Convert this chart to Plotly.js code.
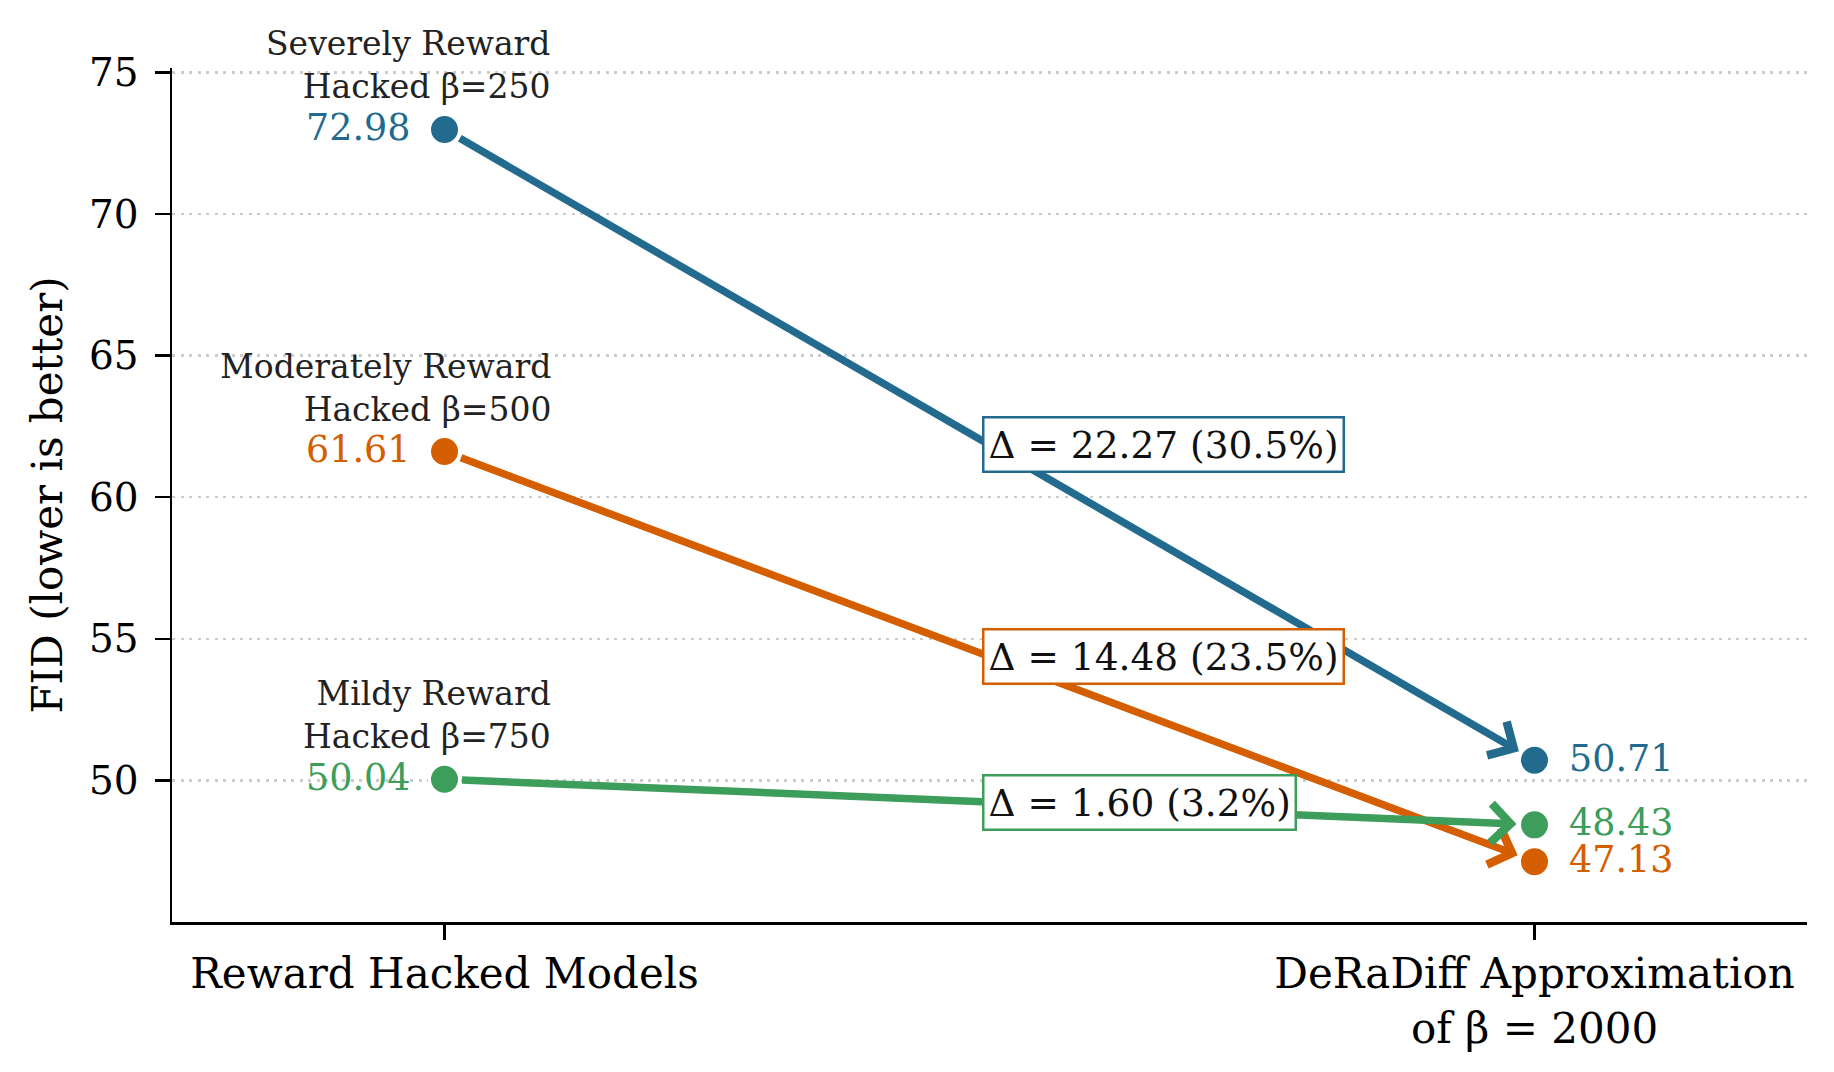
<!DOCTYPE html>
<html>
<head>
<meta charset="utf-8">
<script src="https://cdn.plot.ly/plotly-3.0.1.min.js"></script>
<style>html,body{margin:0;padding:0;background:#fff;}#chart{width:1834px;height:1072px;}</style>
</head>
<body>
<div id="chart"></div>
<script>
// ---- data ----
const stageLabels = ["Reward Hacked Models", "DeRaDiff Approximation<br>of β = 2000"];
const groupNames = ["Severely Reward", "Moderately Reward", "Mildy Reward"];
const betas = [250, 500, 750];
const fidBefore = [72.98, 61.61, 50.04];
const fidAfter = [50.71, 47.13, 48.43];
const deltaValues = [22.27, 14.48, 1.60];
const deltaPercents = [30.5, 23.5, 3.2];
const colors = ["#236B8E", "#D55E00", "#3D9D5B"];
const yTicks = [50, 55, 60, 65, 70, 75];

const FONT = "DejaVu Serif, Liberation Serif, serif";
const xPos = [0, 1];

const traces = [];
const annotations = [];

for (let i = 0; i < fidBefore.length; i++) {
  traces.push({
    type: "scatter",
    mode: "markers",
    x: xPos,
    y: [fidBefore[i], fidAfter[i]],
    marker: { size: 30, color: colors[i], line: { color: "#ffffff", width: 3 } },
    hoverinfo: "skip",
    showlegend: false
  });

  // connecting arrow
  annotations.push({
    x: xPos[1], y: fidAfter[i], xref: "x", yref: "y",
    ax: xPos[0], ay: fidBefore[i], axref: "x", ayref: "y",
    text: "", showarrow: true,
    arrowhead: 4, arrowsize: 1, arrowwidth: 7.5, arrowcolor: colors[i],
    standoff: 18, startstandoff: 16
  });

  // value labels
  annotations.push({
    x: xPos[0], y: fidBefore[i], xref: "x", yref: "y",
    text: fidBefore[i].toFixed(2), showarrow: false,
    xanchor: "right", yanchor: "middle", xshift: -33, yshift: 2,
    borderpad: 0,
    font: { family: FONT, size: 36.5, color: colors[i] }
  });
  annotations.push({
    x: xPos[1], y: fidAfter[i], xref: "x", yref: "y",
    text: fidAfter[i].toFixed(2), showarrow: false,
    xanchor: "left", yanchor: "middle", xshift: 33, yshift: 2,
    borderpad: 0,
    font: { family: FONT, size: 36.5, color: colors[i] }
  });

  // group labels
  annotations.push({
    x: xPos[0], y: fidBefore[i], xref: "x", yref: "y",
    text: groupNames[i] + "<br>Hacked β=" + betas[i], showarrow: false,
    xanchor: "right", yanchor: "middle", align: "right",
    xshift: 108, yshift: 64,
    font: { family: FONT, size: 33, color: "#222222" }
  });

  // delta boxes
  annotations.push({
    x: 0.5, y: (fidBefore[i] + fidAfter[i]) / 2, xref: "x", yref: "y",
    text: "Δ = " + deltaValues[i].toFixed(2) + " (" + deltaPercents[i].toFixed(1) + "%)",
    showarrow: false, xanchor: "left", yanchor: "middle", xshift: -8,
    bgcolor: "#ffffff", bordercolor: colors[i], borderwidth: 2.5, borderpad: 4,
    font: { family: FONT, size: 37.5, color: "#111111" }
  });
}

const layout = {
  width: 1834, height: 1072,
  margin: { l: 172, r: 27, t: 68, b: 150 },
  paper_bgcolor: "#ffffff", plot_bgcolor: "#ffffff",
  font: { family: FONT, color: "#000000" },
  xaxis: {
    range: [-0.25, 1.25], tickvals: xPos, ticktext: stageLabels,
    showgrid: false, zeroline: false,
    showline: true, linecolor: "#000000", linewidth: 2.5,
    ticks: "outside", ticklen: 15, tickwidth: 2.5, tickcolor: "#000000",
    tickfont: { family: FONT, size: 42, color: "#000000" },
    ticklabelstandoff: -2
  },
  yaxis: {
    range: [45, 75.15], tickvals: yTicks,
    showgrid: true, gridcolor: "#cccccc", gridwidth: 2.5, griddash: "3px,5.5px",
    zeroline: false,
    showline: true, linecolor: "#000000", linewidth: 2.5,
    ticks: "outside", ticklen: 15, tickwidth: 2.5, tickcolor: "#000000",
    tickfont: { family: FONT, size: 39, color: "#000000" },
    ticklabelstandoff: 8,
    title: { text: "FID (lower is better)", font: { family: FONT, size: 42, color: "#000000" }, standoff: 14 }
  },
  annotations: annotations
};

Plotly.newPlot("chart", traces, layout, { displayModeBar: false, staticPlot: true });
</script>
</body>
</html>
